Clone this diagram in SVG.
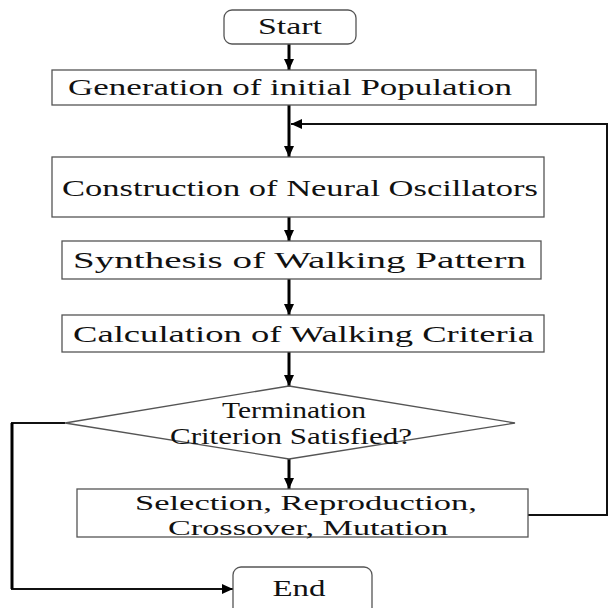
<svg xmlns="http://www.w3.org/2000/svg" width="609" height="608" viewBox="0 0 609 608">
<style>
.box{fill:#fff;stroke:#555;stroke-width:1.3}
.lbl{font-family:"Liberation Serif","Times New Roman",serif;font-size:23px;fill:#111}
.sm{font-size:22px}
.flow{fill:none;stroke:#000;stroke-width:3}
.thin{fill:none;stroke:#111;stroke-width:2}
</style>
<defs>
<marker id="ah" markerUnits="userSpaceOnUse" markerWidth="12" markerHeight="12" viewBox="0 0 12 12" refX="11" refY="6" orient="auto">
<path d="M0,1 L11,6 L0,11 z" fill="#000"/>
</marker>
</defs>
<rect width="609" height="608" fill="#fff"/>
<g id="connectors">
<line class="flow" x1="289" y1="44" x2="289" y2="70" marker-end="url(#ah)"/>
<line class="flow" x1="289" y1="105" x2="289" y2="157" marker-end="url(#ah)"/>
<polyline class="thin" points="528,515 607,515 607,124 291,124" marker-end="url(#ah)"/>
<line class="flow" x1="289" y1="217" x2="289" y2="241" marker-end="url(#ah)"/>
<line class="flow" x1="289" y1="279" x2="289" y2="315" marker-end="url(#ah)"/>
<line class="flow" x1="289" y1="352" x2="289" y2="386" marker-end="url(#ah)"/>
<line class="flow" x1="289" y1="459" x2="289" y2="489" marker-end="url(#ah)"/>
<polyline class="thin" points="65,423 12,423 12,589 233,589" marker-end="url(#ah)"/>
<line x1="12" y1="423" x2="12" y2="589" stroke="#000" stroke-width="3"/>
</g>
<g id="start">
<rect class="box" x="224" y="10" width="132" height="34" rx="8"/>
<text class="lbl" x="290" y="34" text-anchor="middle" textLength="64" lengthAdjust="spacingAndGlyphs">Start</text>
</g>
<g id="generation">
<rect class="box" x="52" y="70" width="484" height="35"/>
<text class="lbl" x="68" y="95" textLength="444" lengthAdjust="spacingAndGlyphs">Generation of initial Population</text>
</g>
<g id="construction">
<rect class="box" x="52" y="157" width="492" height="60"/>
<text class="lbl" x="62" y="196" textLength="476" lengthAdjust="spacingAndGlyphs">Construction of Neural Oscillators</text>
</g>
<g id="synthesis">
<rect class="box" x="62" y="241" width="479" height="38"/>
<text class="lbl" x="73" y="268" textLength="453" lengthAdjust="spacingAndGlyphs">Synthesis of Walking Pattern</text>
</g>
<g id="calculation">
<rect class="box" x="62" y="315" width="482" height="37"/>
<text class="lbl" x="73" y="342" textLength="461" lengthAdjust="spacingAndGlyphs">Calculation of Walking Criteria</text>
</g>
<g id="termination">
<polygon class="box" points="289,386 515,423 289,459 65,423"/>
<text class="lbl" x="294" y="418" text-anchor="middle" textLength="144" lengthAdjust="spacingAndGlyphs">Termination</text>
<text class="lbl" x="291" y="444" text-anchor="middle" textLength="242" lengthAdjust="spacingAndGlyphs">Criterion Satisfied?</text>
</g>
<g id="selection">
<rect class="box" x="77" y="489" width="451" height="48"/>
<text class="lbl sm" x="306" y="510" text-anchor="middle" textLength="342" lengthAdjust="spacingAndGlyphs">Selection, Reproduction,</text>
<text class="lbl sm" x="308" y="535" text-anchor="middle" textLength="280" lengthAdjust="spacingAndGlyphs">Crossover, Mutation</text>
</g>
<g id="end">
<rect class="box" x="233" y="567" width="139" height="50" rx="8"/>
<text class="lbl" x="299" y="596" text-anchor="middle" textLength="53" lengthAdjust="spacingAndGlyphs">End</text>
</g>
</svg>
